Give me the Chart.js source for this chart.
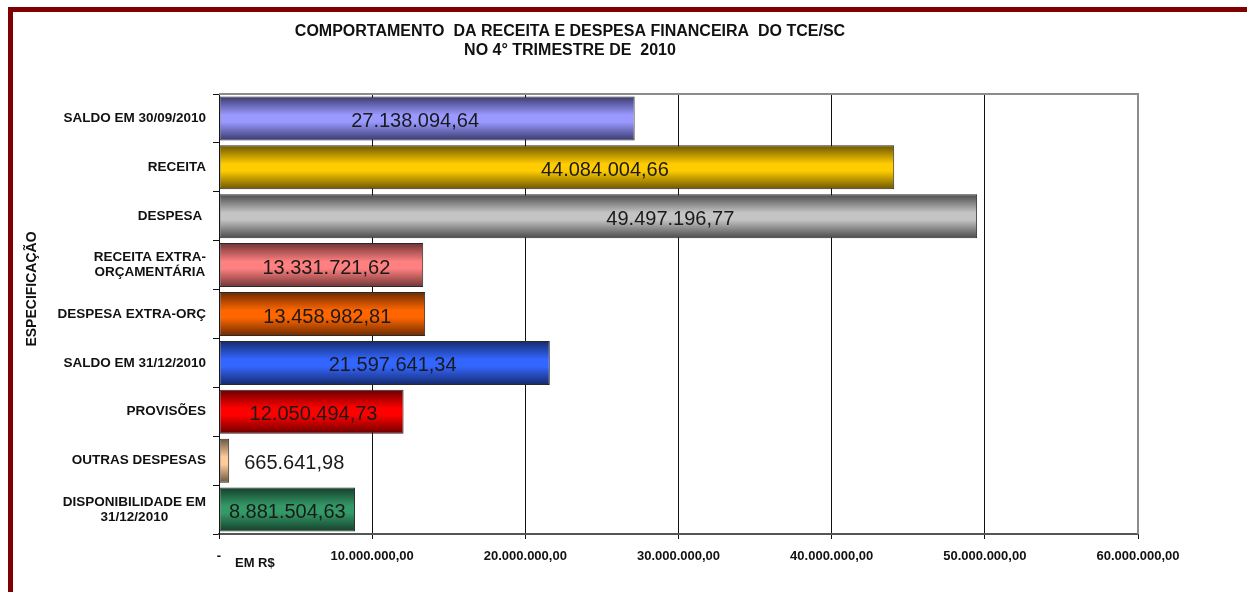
<!DOCTYPE html>
<html>
<head>
<meta charset="utf-8">
<script src="https://cdn.jsdelivr.net/npm/chart.js@4.4.1/dist/chart.umd.min.js"></script>
<style>
  html, body { margin: 0; padding: 0; background: #fff; overflow: hidden; }
  #wrap { position: relative; width: 1247px; height: 592px; overflow: hidden; }
  #frame { position: absolute; left: 8px; top: 7px; width: 1400px; height: 800px;
           border: 5px solid #7f0000; pointer-events: none; }
  canvas { position: absolute; left: 0; top: 0; }
</style>
</head>
<body>
<div id="wrap">
  <canvas id="chart" width="1247" height="592"></canvas>
  <div id="frame"></div>
</div>
<script>
const categories = [
  ['SALDO EM 30/09/2010'],
  ['RECEITA'],
  ['DESPESA '],
  ['RECEITA EXTRA-', 'ORÇAMENTÁRIA'],
  ['DESPESA EXTRA-ORÇ'],
  ['SALDO EM 31/12/2010'],
  ['PROVISÕES'],
  ['OUTRAS DESPESAS'],
  ['DISPONIBILIDADE EM', '31/12/2010']
];
const values = [
  27138094.64, 44084004.66, 49497196.77, 13331721.62, 13458982.81,
  21597641.34, 12050494.73, 665641.98, 8881504.63
];
const xTicks = [0, 10000000, 20000000, 30000000, 40000000, 50000000, 60000000];

const titleLines = [
  'COMPORTAMENTO  DA RECEITA E DESPESA FINANCEIRA  DO TCE/SC',
  'NO 4° TRIMESTRE DE  2010'
];
const axisTitle = 'ESPECIFICAÇÃO';
const unitLabel = 'EM R$';

// [dark edge, light centre] for the "tube" look
const barColors = [
  ['#3a3a6e', '#9999ff'],
  ['#6b5500', '#ffcc00'],
  ['#4a4a4a', '#c4c4c4'],
  ['#6e3434', '#ff8080'],
  ['#6b2b00', '#ff6600'],
  ['#152a6b', '#3366ff'],
  ['#6b0000', '#ff0000'],
  ['#6b553f', '#ffcc99'],
  ['#153f2b', '#339966']
];
// hand-nudged label positions in the original (px from bar centre)
const labelNudge = [-12, 48, 72, 5, 5, 8, 2, 0, 0];

const FONT = 'Arial, "Liberation Sans", sans-serif';
Chart.defaults.font.family = FONT;
Chart.defaults.color = '#111';

function fmt(v) {
  const neg = v < 0;
  const parts = Math.abs(v).toFixed(2).split('.');
  const int = parts[0].replace(/\B(?=(\d{3})+(?!\d))/g, '.');
  return (neg ? '-' : '') + int + ',' + parts[1];
}

const BAR_PCT = 0.9;

function tubeFill(c) {
  const i = c.dataIndex || 0;
  const col = barColors[i];
  const y = c.chart.scales.y;
  if (!y || y.bottom === undefined) return col[1];
  const cy = y.getPixelForValue(i);
  const half = (y.bottom - y.top) / categories.length * BAR_PCT / 2;
  const g = c.chart.ctx.createLinearGradient(0, cy - half, 0, cy + half);
  g.addColorStop(0, col[0]);
  g.addColorStop(0.42, col[1]);
  g.addColorStop(0.58, col[1]);
  g.addColorStop(1, col[0]);
  return g;
}

const decor = {
  id: 'decor',
  afterDraw(chart) {
    const ctx = chart.ctx;
    const area = chart.chartArea;
    const ys = chart.scales.y;
    ctx.save();

    // plot frame top / right
    ctx.strokeStyle = '#8c8c8c';
    ctx.lineWidth = 2;
    ctx.beginPath();
    ctx.moveTo(area.left, area.top);
    ctx.lineTo(area.right, area.top);
    ctx.lineTo(area.right, area.bottom);
    ctx.stroke();

    // title
    ctx.fillStyle = '#111';
    ctx.font = 'bold 16px ' + FONT;
    ctx.textAlign = 'center';
    ctx.textBaseline = 'middle';
    ctx.fillText(titleLines[0], 570, 32);
    ctx.fillText(titleLines[1], 570, 51);

    // y axis title
    ctx.save();
    ctx.translate(32, 289);
    ctx.rotate(-Math.PI / 2);
    ctx.font = 'bold 14px ' + FONT;
    ctx.fillText(axisTitle, 0, 0);
    ctx.restore();

    // category labels: block right aligned, lines centred within block
    ctx.font = 'bold 13.5px ' + FONT;
    categories.forEach((lines, i) => {
      const cy = ys.getPixelForValue(i);
      const widest = Math.max(...lines.map(l => ctx.measureText(l).width));
      const cx = 206 - widest / 2;
      const lh = 15;
      lines.forEach((l, k) => {
        ctx.fillText(l, cx, cy + (k - (lines.length - 1) / 2) * lh);
      });
    });

    // unit label
    ctx.font = 'bold 13px ' + FONT;
    ctx.textAlign = 'left';
    ctx.fillText(unitLabel, 235, 563);

    // value labels
    ctx.font = '20px ' + FONT;
    ctx.fillStyle = '#1a1a1a';
    const meta = chart.getDatasetMeta(0);
    meta.data.forEach((bar, i) => {
      const txt = fmt(values[i]);
      const w = ctx.measureText(txt).width;
      const barW = bar.x - bar.base;
      if (w + 10 < barW) {
        ctx.textAlign = 'center';
        ctx.fillText(txt, (bar.x + bar.base) / 2 + labelNudge[i], bar.y + 3);
      } else {
        ctx.textAlign = 'left';
        ctx.fillText(txt, bar.x + 15, bar.y + 3);
      }
    });
    ctx.restore();
  }
};

new Chart(document.getElementById('chart'), {
  type: 'bar',
  data: {
    labels: categories,
    datasets: [{
      data: values,
      backgroundColor: tubeFill,
      borderColor: '#2a2a2a',
      borderWidth: 1,
      borderSkipped: false,
      categoryPercentage: 1,
      barPercentage: BAR_PCT
    }]
  },
  options: {
    indexAxis: 'y',
    responsive: false,
    animation: false,
    layout: { padding: { top: 94, right: 109, left: 0, bottom: 0 } },
    plugins: {
      legend: { display: false },
      title: { display: false },
      tooltip: { enabled: false }
    },
    scales: {
      x: {
        min: 0,
        max: 60000000,
        afterBuildTicks: (s) => { s.ticks = xTicks.map(v => ({ value: v })); },
        afterFit: (s) => { s.height = 58; },
        grid: { color: '#111', lineWidth: 1, tickLength: 5, tickColor: '#111' },
        border: { color: '#555', width: 2 },
        ticks: {
          padding: 10,
          font: { size: 13, weight: 'bold' },
          color: '#111',
          callback: (v) => v === 0 ? '-' : fmt(v)
        }
      },
      y: {
        afterFit: (s) => { s.width = 219; },
        grid: { drawOnChartArea: false, tickLength: 6, tickColor: '#111' },
        border: { color: '#111', width: 1 },
        ticks: { display: false }
      }
    }
  },
  plugins: [decor]
});
</script>
</body>
</html>
